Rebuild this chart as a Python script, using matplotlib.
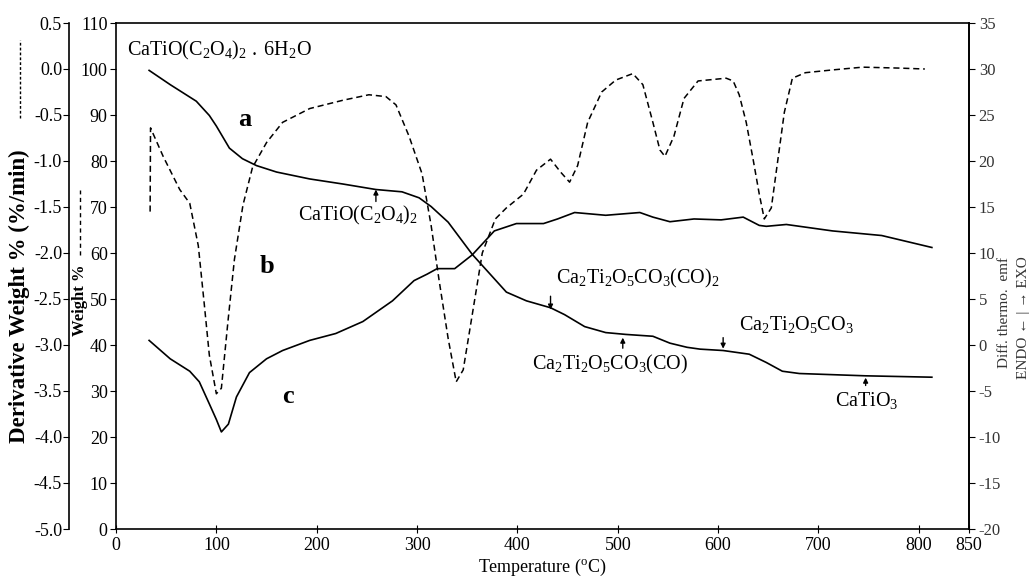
import numpy as np
import matplotlib
matplotlib.use("Agg")
import matplotlib.pyplot as plt
from matplotlib.lines import Line2D

# curve a : weight % (TG)
temp_a = [33, 54, 80, 93, 100, 113, 126, 140, 160, 193, 226, 259, 285, 302, 314,
          331, 355, 372, 389, 409, 433, 447, 467, 488, 508, 535, 552, 569, 582,
          605, 631, 648, 664, 681, 747, 813]
weight_a = [99.7, 96.6, 93.0, 89.9, 87.6, 82.8, 80.5, 79.0, 77.6, 76.1, 75.0, 73.8,
            73.3, 72.0, 70.1, 66.7, 59.7, 55.6, 51.5, 49.6, 48.1, 46.6, 44.0, 42.7,
            42.3, 41.9, 40.4, 39.5, 39.1, 38.8, 38.0, 36.2, 34.3, 33.8, 33.3, 33.0]

# curve b : derivative weight (DTG), dashed
temp_b = [34, 34.4, 47, 63.5, 73.5, 82, 88, 93, 100, 105, 111.6, 118, 126.5, 136, 150,
          166, 193, 226, 252, 269, 279, 292, 305, 314, 322, 331, 339, 346, 355, 365,
          378, 389, 406, 419, 433, 443, 452, 460, 470, 484, 498, 515, 525, 535, 542,
          547, 556, 566, 580, 608, 615, 621, 628, 635, 641, 646, 653, 659, 666, 674,
          687, 714, 744, 780, 806]
deriv_b = [-1.55, -0.64, -0.95, -1.31, -1.46, -1.92, -2.56, -3.11, -3.53, -3.47,
           -2.74, -2.07, -1.48, -1.07, -0.80, -0.58, -0.43, -0.34, -0.28, -0.30,
           -0.39, -0.73, -1.14, -1.70, -2.30, -2.93, -3.40, -3.27, -2.67, -2.00,
           -1.63, -1.51, -1.36, -1.10, -0.98, -1.12, -1.23, -1.05, -0.58, -0.25,
           -0.12, -0.05, -0.17, -0.58, -0.88, -0.95, -0.73, -0.32, -0.13, -0.10,
           -0.13, -0.28, -0.58, -0.99, -1.36, -1.63, -1.51, -1.03, -0.47, -0.10,
           -0.04, -0.01, 0.02, 0.01, 0.00]

# curve c : differential thermal emf (DTA)
temp_c = [33, 54, 73.5, 83, 93, 100, 105, 112, 120, 133, 150, 166, 193, 219, 246,
          275.5, 297, 310, 320, 337.5, 355, 377, 399, 426, 440, 457, 488, 522, 535,
          552, 576, 603, 625, 641, 648, 668, 714, 763, 813]
dta_c = [0.5, -1.5, -2.85, -4.0, -6.4, -8.1, -9.45, -8.6, -5.65, -3.0, -1.5, -0.6,
         0.5, 1.25, 2.55, 4.8, 7.0, 7.7, 8.3, 8.3, 9.8, 12.4, 13.2, 13.2, 13.7, 14.4,
         14.1, 14.4, 13.9, 13.4, 13.7, 13.6, 13.9, 13.0, 12.9, 13.1, 12.4, 11.9, 10.6]

# phase labels (position in temperature / weight % units)
phase_labels = [r'$\mathrm{CaTiO(C_2O_4)_2}$',
                r'$\mathrm{Ca_2Ti_2O_5CO_3(CO)_2}$',
                r'$\mathrm{Ca_2Ti_2O_5CO_3(CO)}$',
                r'$\mathrm{Ca_2Ti_2O_5CO_3}$',
                r'$\mathrm{CaTiO_3}$']
phase_x = [241, 520, 492, 678, 748]
phase_y = [68.2, 54.4, 35.8, 44.4, 27.9]
arrow_x = [259, 433, 505, 605, 747]
arrow_tail = [71.2, 50.6, 39.3, 41.6, 31.2]
arrow_head = [73.8, 47.7, 41.6, 39.2, 32.9]

curve_names = ['a', 'b', 'c']
curve_name_x = [128, 150, 171]
curve_name_y = [89.1, 57.0, 28.7]

x_ticks = [0, 100, 200, 300, 400, 500, 600, 700, 800, 850]
weight_ticks = np.arange(0, 111, 10)
deriv_ticks = np.arange(-5.0, 0.51, 0.5)
dta_ticks = np.arange(-20, 36, 5)

plt.rcParams['font.family'] = ['Liberation Serif', 'DejaVu Serif']
plt.rcParams['mathtext.fontset'] = 'custom'
plt.rcParams['mathtext.rm'] = 'Liberation Serif'
plt.rcParams['mathtext.it'] = 'Liberation Serif:italic'
plt.rcParams['mathtext.bf'] = 'Liberation Serif:bold'
plt.rcParams['axes.unicode_minus'] = False

W, H = 1031, 579
fig = plt.figure(figsize=(W / 100, H / 100), dpi=100)
ax = fig.add_axes([116 / W, 50 / H, 853 / W, 506 / H])

# weight axis (inner left)
ax.plot(temp_a, weight_a, color='black', lw=1.2)
ax.set_xlim(0, 850)
ax.set_ylim(0, 110)
ax.set_xticks(x_ticks)
ax.set_yticks(weight_ticks)
ax.tick_params(axis='y', direction='out', length=4, labelsize=13, pad=2)
ax.tick_params(axis='x', direction='inout', length=6, labelsize=13, pad=3)
ax.set_xlabel('Temperature ($\\mathrm{^{o}C}$)', fontsize=13, labelpad=2)
for s in ax.spines.values():
    s.set_linewidth(1.2)

# derivative axis (outer left), spine 47 px left of the weight axis
ax_d = ax.twinx()
ax_d.plot(temp_b, deriv_b, color='black', lw=1.1, linestyle=(0, (4, 2.5)))
ax_d.set_ylim(-5.0, 0.5)
ax_d.set_yticks(deriv_ticks)
ax_d.set_yticklabels([f'{v:.1f}' for v in deriv_ticks])
ax_d.yaxis.set_ticks_position('left')
ax_d.spines['left'].set_visible(True)
ax_d.spines['left'].set_position(('outward', 47 * 0.72))
ax_d.spines['left'].set_linewidth(1.2)
for side in ['right', 'top', 'bottom']:
    ax_d.spines[side].set_visible(False)
ax_d.tick_params(axis='y', direction='out', length=4, labelsize=13, pad=1)

# DTA axis (right)
ax_r = ax.twinx()
ax_r.plot(temp_c, dta_c, color='black', lw=1.2)
ax_r.set_ylim(-20, 35)
ax_r.set_yticks(dta_ticks)
ax_r.spines['right'].set_linewidth(1.2)
for side in ['left', 'top', 'bottom']:
    ax_r.spines[side].set_visible(False)
ax_r.tick_params(axis='y', direction='out', length=4, labelsize=12, pad=3,
                 labelcolor='#333333')

# texts on the plot
ax.text(11, 104, r'$\mathrm{CaTiO(C_2O_4)_2\ .\ 6H_2O}$', fontsize=14.5,
        ha='left', va='center')
for name, tx, ty in zip(curve_names, curve_name_x, curve_name_y):
    ax.text(tx, ty, name, fontsize=19, fontweight='bold', ha='center', va='center')
for lab, tx, ty in zip(phase_labels, phase_x, phase_y):
    ax.text(tx, ty, lab, fontsize=14.5, ha='center', va='center')
for axx, t0, t1 in zip(arrow_x, arrow_tail, arrow_head):
    ax.annotate('', xy=(axx, t1), xytext=(axx, t0),
                arrowprops=dict(arrowstyle='-|>', color='black', lw=1.0,
                                mutation_scale=7, shrinkA=0, shrinkB=0))

# axis titles with line-style keys
fig.text(19 / W, 1 - 296 / H, 'Derivative Weight % (%/min)', rotation=90,
         fontsize=16.5, fontweight='bold', ha='center', va='center')
fig.add_artist(Line2D([20 / W, 20 / W], [1 - 118 / H, 1 - 40 / H],
                      color='black', lw=1.0, linestyle=(0, (2, 1.5))))
fig.text(80 / W, 1 - 300 / H, 'Weight %', rotation=90,
         fontsize=12, fontweight='bold', ha='center', va='center')
fig.add_artist(Line2D([80 / W, 80 / W], [1 - 255 / H, 1 - 190 / H],
                      color='black', lw=1.0, linestyle=(0, (3, 2.5))))
fig.text(1005 / W, 1 - 313 / H, 'Diff. thermo.  emf', rotation=90,
         fontsize=11, ha='center', va='center', color='#333333')
fig.text(1023 / W, 1 - 318 / H, 'ENDO \u2190 | \u2192 EXO', rotation=90,
         fontsize=11, ha='center', va='center', color='#333333')

fig.savefig('out.png', dpi=100)
